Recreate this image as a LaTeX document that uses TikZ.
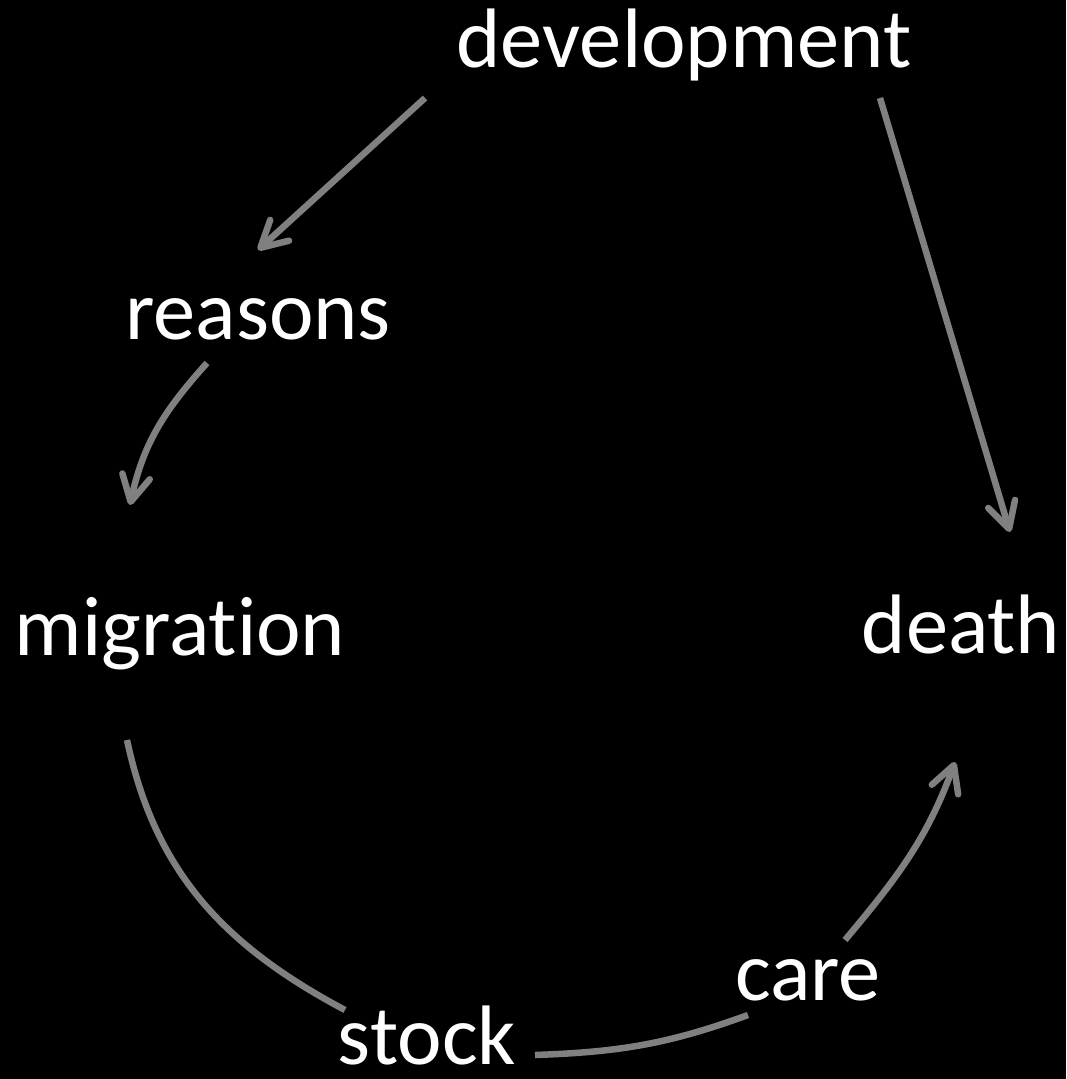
\documentclass[tikz,border=0pt]{standalone}
\usepackage{fontspec}
\setmainfont{Carlito}[Ligatures=NoCommon]
\usetikzlibrary{arrows.meta}
\definecolor{arrowgrey}{RGB}{128,128,128}

\begin{document}
\begin{tikzpicture}[
    x=0.01cm, y=-0.01cm,
    word/.style={text=white, inner sep=0pt, anchor=base, font=\fontsize{24}{28}\selectfont},
    link/.style={draw=arrowgrey, line width=0.065cm},
    arrow/.style={link, -{Straight Barb[length=2.6mm, width=2.8mm, line cap=round, line join=round]}}
]

\fill[black] (0,0) rectangle (1066,1079);
\useasboundingbox (0,0) rectangle (1066,1079);

\node[word] (dev) at (684,68) {development};
\node[word] (reas) at (258,339) {reasons};
\node[word] (mig) at (180,655) {migration};
\node[word] (death) at (961,653) {death};
\node[word] (stock) at (427,1064) {stock};
\node[word] (care) at (808,1000) {care};

\draw[arrow] ([shift={(-259,30)}]dev.base) -- ([shift={(0,-89)}]reas.base);
\draw[arrow] ([shift={(196,30)}]dev.base) -- ([shift={(49,-121)}]death.base);
\draw[arrow] ([shift={(-51,24)}]reas.base) to[out=228, in=78] ([shift={(-50,-150)}]mig.base);

\draw[link] ([shift={(-53,85)}]mig.base) to[out=-78, in=152] ([shift={(-82,-54)}]stock.base);
\draw[link] ([shift={(108,-9)}]stock.base) to[out=2, in=200] ([shift={(-60,15)}]care.base);
\draw[arrow] ([shift={(37,-60)}]care.base) to[out=50, in=250] ([shift={(-6,109)}]death.base);

\end{tikzpicture}
\end{document}
